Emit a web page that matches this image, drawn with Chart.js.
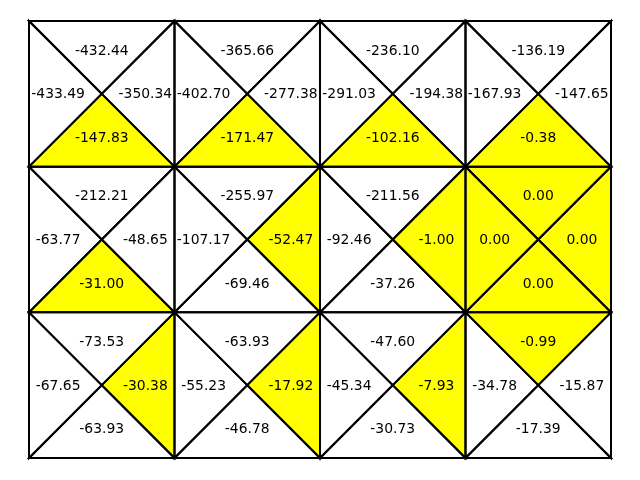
<!DOCTYPE html>
<html>
<head>
<meta charset="utf-8">
<script src="https://cdn.jsdelivr.net/npm/chart.js@4/dist/chart.umd.min.js"></script>
<style>
html,body{margin:0;padding:0;background:#fff;}
#wrap{width:640px;height:480px;}
</style>
</head>
<body>
<div id="wrap"><canvas id="c" width="640" height="480"></canvas></div>
<script>
// Grid: 3 rows x 4 columns, each cell split into 4 triangles (action values)
const nRows = 3;
const nCols = 4;
const qTop = [
  [-432.44, -365.66, -236.10, -136.19],
  [-212.21, -255.97, -211.56, 0.00],
  [-73.53, -63.93, -47.60, -0.99]
];
const qLeft = [
  [-433.49, -402.70, -291.03, -167.93],
  [-63.77, -107.17, -92.46, 0.00],
  [-67.65, -55.23, -45.34, -34.78]
];
const qRight = [
  [-350.34, -277.38, -194.38, -147.65],
  [-48.65, -52.47, -1.00, 0.00],
  [-30.38, -17.92, -7.93, -15.87]
];
const qBottom = [
  [-147.83, -171.47, -102.16, -0.38],
  [-31.00, -69.46, -37.26, 0.00],
  [-63.93, -46.78, -30.73, -17.39]
];

const centers = [];
for (let r = 0; r < nRows; r++) for (let c = 0; c < nCols; c++) centers.push({x: c + 0.5, y: r + 0.5});

const gridPlugin = {
  id: 'qgrid',
  afterDatasetsDraw(chart) {
    const ctx = chart.ctx;
    const xs = chart.scales.x, ys = chart.scales.y;
    const px = v => xs.getPixelForValue(v);
    const py = v => ys.getPixelForValue(v);
    ctx.save();
    const tris = [];
    for (let r = 0; r < nRows; r++) {
      for (let c = 0; c < nCols; c++) {
        const vals = [qTop[r][c], qLeft[r][c], qRight[r][c], qBottom[r][c]];
        const mx = Math.max(...vals);
        const x0 = c, x1 = c + 1, y0 = r, y1 = r + 1, cx = c + 0.5, cy = r + 0.5;
        const polys = [
          [[x0,y0],[x1,y0],[cx,cy]],
          [[x0,y0],[x0,y1],[cx,cy]],
          [[x1,y0],[x1,y1],[cx,cy]],
          [[x0,y1],[x1,y1],[cx,cy]]
        ];
        const lab = [[cx, y0 + 0.2],[x0 + 0.2, cy],[x1 - 0.2, cy],[cx, y1 - 0.2]];
        for (let k = 0; k < 4; k++) {
          tris.push({poly: polys[k], hi: vals[k] === mx, val: vals[k], lab: lab[k]});
        }
      }
    }
    // fills
    for (const t of tris) {
      ctx.beginPath();
      t.poly.forEach((p, i) => { const X = px(p[0]), Y = py(p[1]); if (i === 0) ctx.moveTo(X, Y); else ctx.lineTo(X, Y); });
      ctx.closePath();
      ctx.fillStyle = t.hi ? '#ffff00' : '#ffffff';
      ctx.fill();
    }
    // edges
    ctx.strokeStyle = '#000000';
    ctx.lineWidth = 2;
    ctx.lineJoin = 'miter';
    for (const t of tris) {
      ctx.beginPath();
      t.poly.forEach((p, i) => { const X = px(p[0]), Y = py(p[1]); if (i === 0) ctx.moveTo(X, Y); else ctx.lineTo(X, Y); });
      ctx.closePath();
      ctx.stroke();
    }
    // labels
    ctx.fillStyle = '#000000';
    ctx.font = '13.9px "DejaVu Sans"';
    ctx.textAlign = 'center';
    ctx.textBaseline = 'middle';
    for (const t of tris) {
      ctx.fillText(t.val.toFixed(2), px(t.lab[0]), py(t.lab[1]) + 1);
    }
    ctx.restore();
  }
};

new Chart(document.getElementById('c'), {
  type: 'scatter',
  data: {
    datasets: [{
      data: centers,
      pointRadius: 0,
      pointHoverRadius: 0,
      showLine: false
    }]
  },
  options: {
    responsive: false,
    animation: false,
    events: [],
    layout: { padding: { left: 29, right: 29, top: 21, bottom: 22 } },
    scales: {
      x: { type: 'linear', min: 0, max: nCols, display: false },
      y: { type: 'linear', min: 0, max: nRows, reverse: true, display: false }
    },
    plugins: { legend: { display: false }, tooltip: { enabled: false } }
  },
  plugins: [gridPlugin]
});
</script>
</body>
</html>
